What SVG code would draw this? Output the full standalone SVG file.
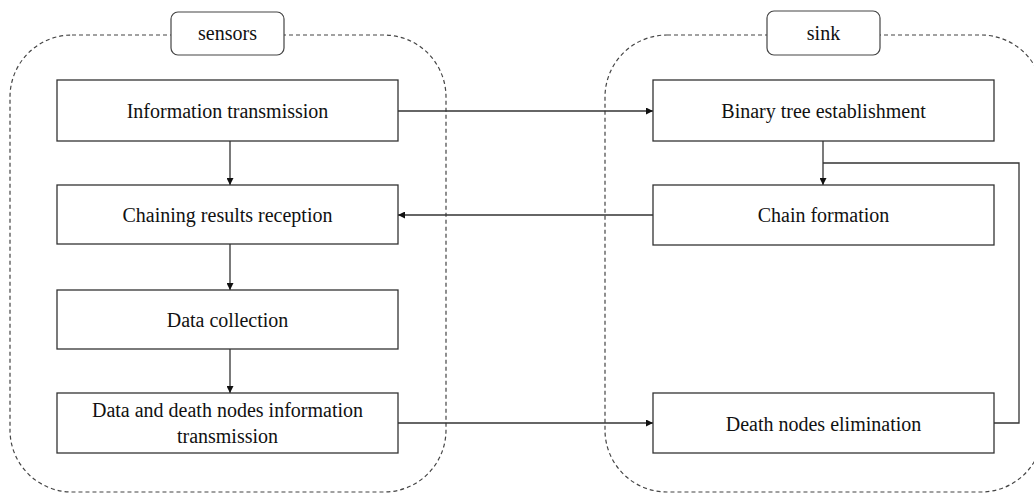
<svg xmlns="http://www.w3.org/2000/svg" width="1034" height="495" viewBox="0 0 1034 495">
<defs>
<style>
.grp{fill:none;stroke:#444;stroke-width:1.2;stroke-dasharray:4,3}
.box{fill:#fff;stroke:#333;stroke-width:1.3}
.lbl{fill:#fff;stroke:#444;stroke-width:1.2}
.t{font-family:'Liberation Serif','Times New Roman',serif;font-size:20px;fill:#111;text-anchor:middle}
.c{fill:none;stroke:#333;stroke-width:1.3}
</style>
<marker id="ah" viewBox="0 0 10 10" refX="10" refY="5" markerWidth="7" markerHeight="7" markerUnits="userSpaceOnUse" orient="auto">
<path d="M0,0 L10,5 L0,10 z" fill="#111"/>
</marker>
</defs>
<rect width="1034" height="495" fill="#fff"/>
<g id="sensors-group">
<rect class="grp" x="10" y="35" width="436" height="457" rx="62" ry="62"/>
<rect class="lbl" x="171" y="12" width="113" height="43" rx="7" ry="7"/>
<text class="t" x="227.5" y="40">sensors</text>
</g>
<g id="sink-group">
<rect class="grp" x="605" y="35" width="438" height="457" rx="62" ry="62"/>
<rect class="lbl" x="767" y="11" width="113" height="44" rx="7" ry="7"/>
<text class="t" x="823.5" y="40">sink</text>
</g>
<g id="connectors">
<line class="c" x1="398" y1="111" x2="653" y2="111" marker-end="url(#ah)"/>
<line class="c" x1="653" y1="215" x2="398" y2="215" marker-end="url(#ah)"/>
<line class="c" x1="398" y1="423" x2="653" y2="423" marker-end="url(#ah)"/>
<line class="c" x1="230" y1="141" x2="230" y2="185" marker-end="url(#ah)"/>
<line class="c" x1="230" y1="244" x2="230" y2="290" marker-end="url(#ah)"/>
<line class="c" x1="230" y1="349" x2="230" y2="393" marker-end="url(#ah)"/>
<line class="c" x1="823" y1="141" x2="823" y2="185" marker-end="url(#ah)"/>
<polyline class="c" points="994,423 1019,423 1019,163 823,163"/>
</g>
<g id="info-transmission">
<rect class="box" x="57" y="80" width="341" height="61"/>
<text class="t" x="227.5" y="118">Information transmission</text>
</g>
<g id="chaining-reception">
<rect class="box" x="57" y="185" width="341" height="59"/>
<text class="t" x="227.5" y="222">Chaining results reception</text>
</g>
<g id="data-collection">
<rect class="box" x="57" y="290" width="341" height="59"/>
<text class="t" x="227.5" y="327">Data collection</text>
</g>
<g id="data-death-transmission">
<rect class="box" x="57" y="393" width="341" height="60"/>
<text class="t" x="227.5" y="417">Data and death nodes information</text>
<text class="t" x="227.5" y="443">transmission</text>
</g>
<g id="binary-tree">
<rect class="box" x="653" y="80" width="341" height="61"/>
<text class="t" x="823.5" y="118">Binary tree establishment</text>
</g>
<g id="chain-formation">
<rect class="box" x="653" y="185" width="341" height="60"/>
<text class="t" x="823.5" y="222">Chain formation</text>
</g>
<g id="death-elimination">
<rect class="box" x="653" y="393" width="341" height="60"/>
<text class="t" x="823.5" y="431">Death nodes elimination</text>
</g>
</svg>
